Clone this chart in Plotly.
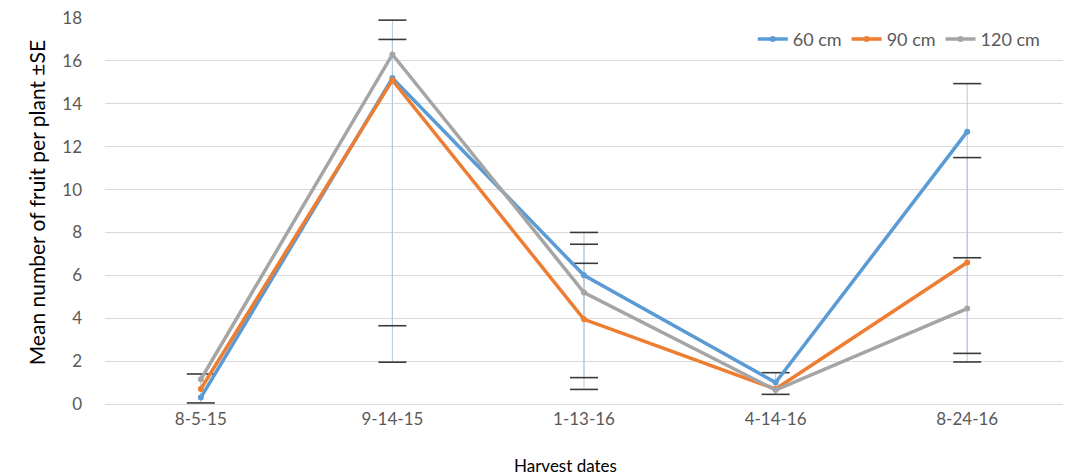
import plotly.graph_objects as go

dates = ["8-5-15", "9-14-15", "1-13-16", "4-14-16", "8-24-16"]
series_names = ["60 cm", "90 cm", "120 cm"]
mean_60 = [0.3, 15.2, 6.0, 1.0, 12.7]
mean_90 = [0.7, 15.1, 3.95, 0.7, 6.6]
mean_120 = [1.15, 16.3, 5.2, 0.65, 4.45]
# upper / lower error-bar ends (None = not shown)
upper_60 = [1.4, 17.9, 8.0, 1.46, 14.94]
lower_60 = [0.05, 1.95, 0.68, 0.45, 1.96]
upper_90 = [None, None, 6.56, None, 11.49]
lower_90 = [None, None, None, None, None]
upper_120 = [None, 17.0, 7.45, None, 6.82]
lower_120 = [None, 3.65, 1.23, None, 2.36]

colors = ["#5B9BD5", "#ED7D31", "#A5A5A5"]
means = [mean_60, mean_90, mean_120]
uppers = [upper_60, upper_90, upper_120]
lowers = [lower_60, lower_90, lower_120]

fig = go.Figure()

# error bar stems (light blue, no caps)
for m, up, lo in zip(means, uppers, lowers):
    plus = [(u - v) if u is not None else 0 for u, v in zip(up, m)]
    minus = [(v - l) if l is not None else 0 for l, v in zip(lo, m)]
    fig.add_trace(go.Scatter(
        x=dates, y=m, mode="markers", marker=dict(size=1, opacity=0),
        error_y=dict(type="data", symmetric=False, array=plus, arrayminus=minus,
                     color="#B4C9DE", thickness=1, width=0),
        showlegend=False, hoverinfo="skip"))

# caps
cap_x, cap_y = [], []
for up, lo in zip(uppers, lowers):
    for d, u, l in zip(dates, up, lo):
        if u is not None:
            cap_x.append(d); cap_y.append(u)
        if l is not None:
            cap_x.append(d); cap_y.append(l)
fig.add_trace(go.Scatter(
    x=cap_x, y=cap_y, mode="markers",
    marker=dict(symbol="line-ew", size=20, line=dict(width=1.6, color="#3A3A3A")),
    showlegend=False, hoverinfo="skip"))

for name, m, c in zip(series_names, means, colors):
    fig.add_trace(go.Scatter(
        x=dates, y=m, name=name, mode="lines+markers",
        line=dict(color=c, width=3.5), marker=dict(size=6, color=c)))

fig.update_layout(
    width=1067, height=469,
    margin=dict(l=97, r=12, t=10, b=73, autoexpand=False),
    paper_bgcolor="white", plot_bgcolor="white",
    font=dict(family="Lato, 'Open Sans', sans-serif", color="#595959", size=16),
    legend=dict(orientation="h", x=0.982, xanchor="right", y=0.945, yanchor="middle",
                font=dict(size=18, color="#595959"), bgcolor="rgba(0,0,0,0)",
                itemwidth=30),
    xaxis=dict(type="category", range=[-0.5, 4.5], showgrid=False, automargin=False,
               showline=True, linecolor="#D9D9D9", linewidth=1,
               ticks="", tickfont=dict(size=17, color="#595959")),
    yaxis=dict(range=[0, 18], dtick=2, showgrid=True, gridcolor="#D9D9D9",
               zeroline=False, showline=False, ticks="", automargin=False,
               ticklabeloverflow="allow",
               ticklabelstandoff=22, tickfont=dict(size=17, color="#595959")),
    annotations=[
        dict(text="Harvest dates", xref="paper", yref="paper", x=0.481, y=-0.16,
             xanchor="center", yanchor="middle", showarrow=False,
             font=dict(size=17, color="#000000")),
        dict(text="Mean number of fruit per plant ±SE", xref="paper", yref="paper",
             x=-0.072, y=0.52, xanchor="center", yanchor="middle", textangle=-90,
             showarrow=False, font=dict(size=21, color="#000000")),
    ],
)

fig.write_html("out.html")
